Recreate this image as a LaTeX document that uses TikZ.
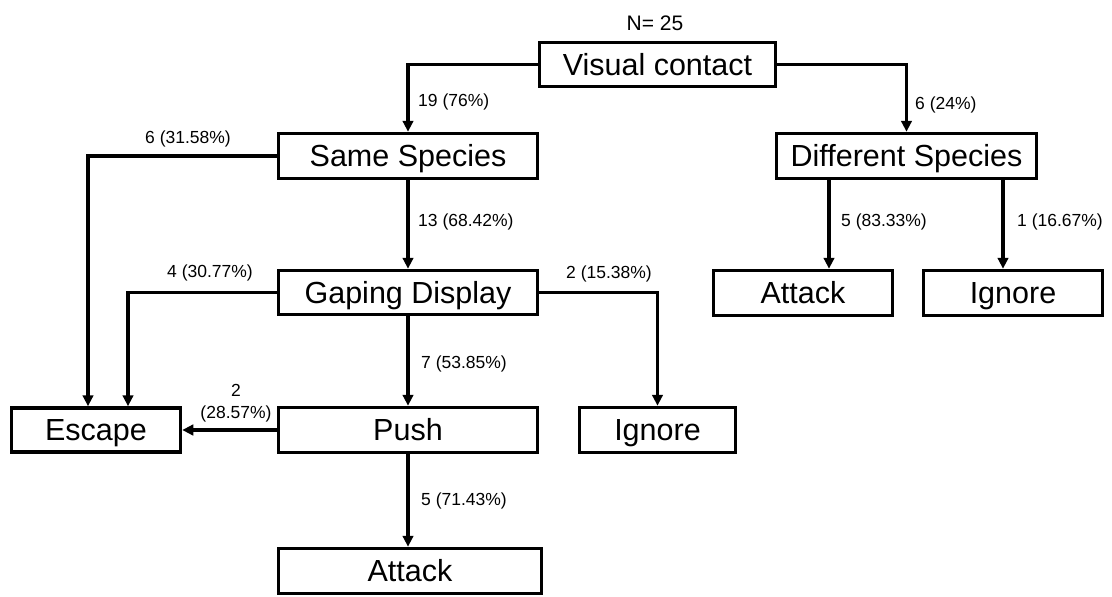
\documentclass[tikz,border=0pt]{standalone}
\usepackage{fontspec}
\setmainfont{Liberation Sans}
\usetikzlibrary{arrows.meta}
\begin{document}
\begin{tikzpicture}[x=1pt,y=-1pt,
  box/.style={draw, line width=3.5pt, inner sep=0pt,
    font=\fontsize{30.5}{36}\selectfont, text height=21.8pt, text depth=0pt},
  lbl/.style={inner sep=0pt, font=\fontsize{17.5}{21}\selectfont,
    text height=12.5pt, text depth=0pt},
  arr/.style={line width=3.5pt, -{Triangle[length=11pt,width=10.5pt]}}]
\useasboundingbox (0,0) rectangle (1112,597);

% boxes
\node[box, minimum width=236pt, minimum height=44pt] (vc) at (657.5,64.5) {Visual contact};
\node[box, minimum width=259pt, minimum height=45pt] (ss) at (408,156) {Same Species};
\node[box, minimum width=260pt, minimum height=45pt] (ds) at (906.5,156) {Different Species};
\node[box, minimum width=259pt, minimum height=44pt] (gd) at (408,292.5) {Gaping Display};
\node[box, minimum width=179pt, minimum height=45pt] (ar) at (803,293) {Attack};
\node[box, minimum width=179pt, minimum height=45pt] (ir) at (1013,293) {Ignore};
\node[box, minimum width=169pt, minimum height=44pt] (es) at (96,430) {Escape};
\node[box, minimum width=259pt, minimum height=45pt] (pu) at (408,430) {Push};
\node[box, minimum width=156pt, minimum height=45pt] (im) at (657.5,430) {Ignore};
\node[box, minimum width=263pt, minimum height=45pt] (ab) at (410,571) {Attack};

% N label
\node[inner sep=0pt, font=\fontsize{21}{25}\selectfont, text height=15pt, text depth=0pt] (n) at (655,23) {N= 25};

% connectors
\draw[arr] (vc.west) -| (ss.north);
\draw[arr] (vc.east) -| (ds.north);
\draw[arr] (ss.west) -| ([xshift=-8pt]es.north);
\draw[arr] (ss.south) -- (gd.north);
\draw[arr] (gd.west) -| ([xshift=32pt]es.north);
\draw[arr] (gd.east) -| (im.north);
\draw[arr] (gd.south) -- (pu.north);
\draw[arr] (pu.west) -- (pu.west -| es.east);
\draw[arr] (pu.south) -- (pu.south |- ab.north);
\draw[arr] ([xshift=26pt]ar.north |- ds.south) -- ([xshift=26pt]ar.north);
\draw[arr] ([xshift=-10pt]ir.north |- ds.south) -- ([xshift=-10pt]ir.north);

% labels
\node[lbl, anchor=west] (l1) at (418,100) {19 (76\%)};
\node[lbl, anchor=west] (l2) at (915,103) {6 (24\%)};
\node[lbl] (l3) at (188,137) {6 (31.58\%)};
\node[lbl, anchor=west] (l4) at (418,220) {13 (68.42\%)};
\node[lbl, anchor=west] (l5) at (841,220) {5 (83.33\%)};
\node[lbl, anchor=west] (l6) at (1017,220) {1 (16.67\%)};
\node[lbl] (l7) at (210,271) {4 (30.77\%)};
\node[lbl] (l8) at (609,272) {2 (15.38\%)};
\node[lbl, anchor=west] (l9) at (421,362) {7 (53.85\%)};
\node[lbl] (l10a) at (236,390) {2};
\node[lbl] (l10b) at (236,412) {(28.57\%)};
\node[lbl, anchor=west] (l11) at (421,499) {5 (71.43\%)};
\end{tikzpicture}
\end{document}
